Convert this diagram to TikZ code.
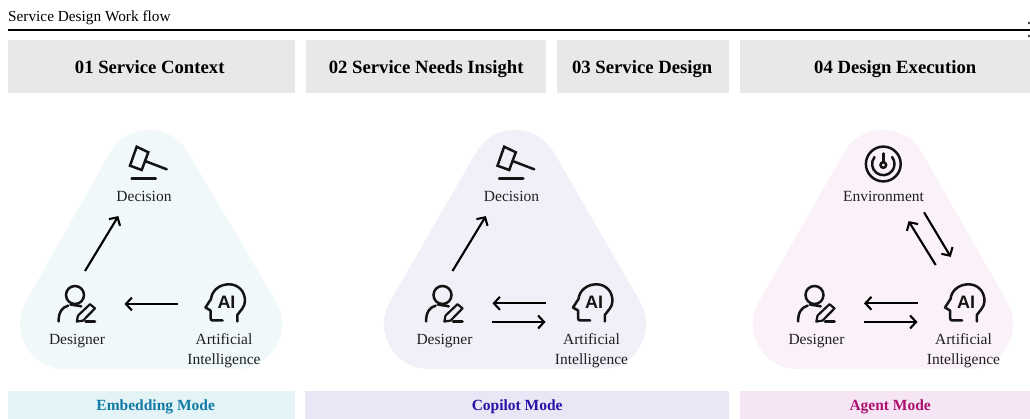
\documentclass[tikz,border=0pt]{standalone}
\usepackage{fontspec}
\setmainfont{Liberation Serif}
\setsansfont{Liberation Sans}
\usetikzlibrary{arrows.meta}
\definecolor{headgray}{HTML}{E8E8E8}
\definecolor{triA}{HTML}{F0F8FA}
\definecolor{triB}{HTML}{F1F0F9}
\definecolor{triC}{HTML}{FAF1F9}
\definecolor{barA}{HTML}{E4F3F5}
\definecolor{barB}{HTML}{E8E7F5}
\definecolor{barC}{HTML}{F6E6F5}
\definecolor{txtA}{HTML}{0E7AA5}
\definecolor{txtB}{HTML}{2B0FA8}
\definecolor{txtC}{HTML}{AC0F6F}
\tikzset{
  x=1pt,y=-1pt,
  headbox/.style={fill=headgray,draw=none,minimum height=53pt,inner sep=0pt,anchor=north west,text height=14pt,text depth=0pt,font=\fontsize{18.7}{20}\selectfont\bfseries,text=black},
  modebar/.style={draw=none,minimum height=28pt,inner sep=0pt,anchor=north west,text height=10pt,text depth=0pt,font=\fontsize{15.5}{17}\selectfont\bfseries},
  lab/.style={inner sep=0pt,text height=10pt,text depth=3pt,font=\fontsize{15.5}{18}\selectfont,text=black!88,align=center},
  twolab/.style={inner sep=0pt,text width=90pt,align=center,font=\fontsize{15.5}{20}\selectfont,text=black!88},
  flow/.style={line width=2.1pt,-{Straight Barb[length=6pt,width=13pt,line width=2.1pt]},shorten >=0.5pt},
  ico/.style={line width=2.5pt,black!92,line cap=round,line join=miter},
  soft/.style={line width=90pt,line join=round},
  decisionicon/.pic={
    \draw[ico] (136.7,146.7)--(148.3,152.3)--(141.7,170)--(130,165.7)--cycle;
    \draw[ico] (145,161)--(166.7,169.3);
    \draw[ico,line width=2.8pt] (131.7,178.3)--(155.7,178.3);
  },
  designericon/.pic={
    \draw[ico] (75,295) circle[radius=9pt];
    \draw[ico] (58.6,321.5) .. controls (58.6,312) and (62,307.5) .. (68.2,305.6);
    \draw[ico] (70.5,304.6) .. controls (74,305.6) and (78,305.2) .. (81.2,306.4);
    \draw[ico,line join=round,line width=2.2pt] (90,304.2)--(95,308.4)--(83,320.6)--(76.8,321.6)--(78,315.6)--cycle;
    \draw[ico] (85.5,321.6)--(95,321.6);
  },
  aiicon/.pic={
    \draw[ico,line join=round] (237.3,321.5)--(237.3,315) .. controls (240,311) and (245,307) .. (245,301) .. controls (245,291) and (238,284.3) .. (229,284.3) .. controls (220,284.3) and (212,290) .. (211,299) -- (205.5,307.5) -- (210.5,310.5) -- (210.5,318) .. controls (210.5,320) and (211.5,320.5) .. (213,320.5) -- (222.7,320.5);
    \node[inner sep=0pt,font=\fontsize{18}{20}\sffamily\bfseries,text=black!92] at (226.5,302) {AI};
  },
  envicon/.pic={
    \begin{scope}[shift={(143.8,164)}]
    \draw[ico] (0,0) circle[radius=17.4pt];
    \draw[ico] (142:11.2pt) arc[start angle=142,end angle=398,radius=11.2pt];
    \draw[ico] (0,1) circle[radius=2.8pt];
    \draw[ico] (0,-2)--(0,-10.5);
    \end{scope}
  }
}
\begin{document}
\begin{tikzpicture}
\useasboundingbox (0,0) rectangle (1030,419);
% header
\node[lab,anchor=west,text=black,font=\fontsize{15.3}{18}\selectfont] (title) at (8,18) {Service Design Work flow};
\coordinate (ruleL) at (8,30);
\coordinate (ruleR) at (1030,30);
\draw[line width=2pt,black] (ruleL)--(ruleR);
\fill[black!70] (1028,22) rectangle (1030,24.2) (1028,35) rectangle (1030,37.2);
\node[headbox,minimum width=287pt] (h1) at (8,40) {\hspace*{-4pt}01 Service Context};
\node[headbox,minimum width=240pt] (h2) at (306,40) {02 Service Needs Insight};
\node[headbox,minimum width=172pt] (h3) at (557,40) {\hspace*{-2pt}03 Service Design};
\node[headbox,minimum width=290pt] (h4) at (740,40) {\hspace*{20pt}04 Design Execution};
% soft triangles
\fill[triA,draw=triA,soft] (149,175)--(65,324)--(237,324)--cycle;
\fill[triB,draw=triB,soft] (515,175)--(429,324)--(601,324)--cycle;
\fill[triC,draw=triC,soft] (883,175)--(798,324)--(968,324)--cycle;
% panel 1
\begin{scope}[name prefix=a-]
  \pic {decisionicon}; \pic {designericon}; \pic {aiicon};
  \node[lab] (dec) at (144,198) {Decision};
  \node[lab] (des) at (77,341) {Designer};
  \node[twolab] (art) at (224,350.5) {Artificial\\Intelligence};
  \coordinate (p) at (85,271); \coordinate (q) at (118.6,215.7);
  \coordinate (r) at (177.7,304); \coordinate (s) at (124,304);
  \draw[flow] (p)--(q);
  \draw[flow] (r)--(s);
\end{scope}
% panel 2
\begin{scope}[name prefix=b-,shift={(367.5,0)}]
  \pic {decisionicon}; \pic {designericon}; \pic {aiicon};
  \node[lab] (dec) at (144,198) {Decision};
  \node[lab] (des) at (77,341) {Designer};
  \node[twolab] (art) at (224,350.5) {Artificial\\Intelligence};
  \coordinate (p) at (85,271); \coordinate (q) at (118.6,215.7);
  \coordinate (r) at (178.5,303.3); \coordinate (s) at (124.5,303.3);
  \coordinate (t) at (124.5,322); \coordinate (u) at (178.5,322);
  \draw[flow] (p)--(q);
  \draw[flow] (r)--(s);
  \draw[flow] (t)--(u);
\end{scope}
% panel 3
\begin{scope}[name prefix=c-,shift={(739.5,0)}]
  \pic {envicon}; \pic {designericon}; \pic {aiicon};
  \node[lab] (env) at (144,198) {Environment};
  \node[lab] (des) at (77,341) {Designer};
  \node[twolab] (art) at (224,350.5) {Artificial\\Intelligence};
  \coordinate (r) at (178,303.3); \coordinate (s) at (124,303.3);
  \coordinate (t) at (124.5,322); \coordinate (u) at (178.5,322);
  \coordinate (v) at (196.2,265); \coordinate (w) at (168.8,220.7);
  \coordinate (x) at (184.5,212.3); \coordinate (y) at (211.5,257.3);
  \draw[flow] (r)--(s);
  \draw[flow] (t)--(u);
  \draw[flow] (v)--(w);
  \draw[flow] (x)--(y);
\end{scope}
% mode bars
\node[modebar,fill=barA,text=txtA,minimum width=287pt] (m1) at (8,391) {\hspace*{8pt}Embedding Mode};
\node[modebar,fill=barB,text=txtB,minimum width=424pt] (m2) at (305,391) {Copilot Mode};
\node[modebar,fill=barC,text=txtC,minimum width=290pt] (m3) at (740,391) {\hspace*{10pt}Agent Mode};
\end{tikzpicture}
\end{document}
